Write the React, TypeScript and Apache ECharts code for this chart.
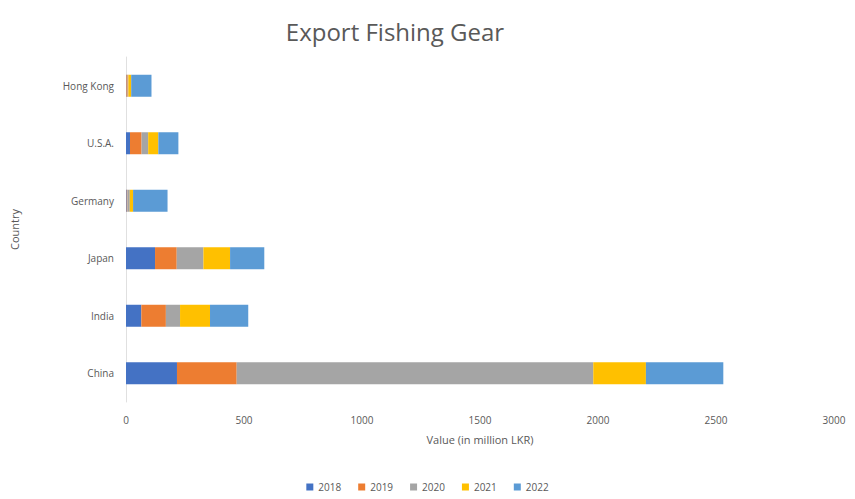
import React, { useEffect, useRef } from "react";
import * as echarts from "echarts";

const countries = ["China", "India", "Japan", "Germany", "U.S.A.", "Hong Kong"];
const years = ["2018", "2019", "2020", "2021", "2022"];
const v2018 = [216, 65, 123, 3, 17, 2];
const v2019 = [253, 104, 92, 3, 49, 5];
const v2020 = [1511, 60, 113, 10, 28, 3];
const v2021 = [223, 127, 113, 14, 43, 12];
const v2022 = [328, 162, 145, 146, 85, 86];
const xTicks = [0, 500, 1000, 1500, 2000, 2500, 3000];
const colors = ["#4472C4", "#ED7D31", "#A5A5A5", "#FFC000", "#5B9BD5"];

export default function App() {
  const ref = useRef<HTMLDivElement>(null);
  useEffect(() => {
    if (!ref.current) return;
    const chart = echarts.init(ref.current, undefined, { renderer: "svg" });
    const values = [v2018, v2019, v2020, v2021, v2022];
    chart.setOption({
      animation: false,
      color: colors,
      textStyle: { fontFamily: "Open Sans", color: "#595959" },
      title: {
        text: "Export Fishing Gear",
        left: 390,
        top: 14,
        textAlign: "center",
        textStyle: { fontSize: 24, fontWeight: "normal", color: "#595959", fontFamily: "Open Sans" },
      },
      legend: {
        data: years,
        bottom: 2,
        left: "center",
        itemWidth: 7,
        itemHeight: 7,
        itemGap: 17,
        icon: "rect",
        textStyle: { fontSize: 10, color: "#595959" },
      },
      grid: { left: 126, right: 21, top: 57, bottom: 97 },
      xAxis: {
        type: "value",
        min: xTicks[0],
        max: xTicks[xTicks.length - 1],
        interval: 500,
        name: "Value (in million LKR)",
        nameLocation: "middle",
        nameGap: 32,
        nameTextStyle: { fontSize: 11, color: "#595959" },
        axisLabel: { fontSize: 10, color: "#595959", margin: 13, formatter: (v: number) => String(v) },
        splitLine: { show: false },
        axisLine: { show: false },
        axisTick: { show: false },
      },
      yAxis: {
        type: "category",
        data: countries,
        name: "Country",
        nameLocation: "middle",
        nameGap: 106,
        nameRotate: 90,
        nameTextStyle: { fontSize: 11, color: "#595959" },
        axisLabel: { fontSize: 10, color: "#595959", margin: 12 },
        axisLine: { show: true, lineStyle: { color: "#E0E0E0" } },
        axisTick: { show: false },
      },
      series: years.map((y, i) => ({
        name: y,
        type: "bar",
        stack: "total",
        barWidth: 22,
        data: values[i],
      })),
    });
    return () => chart.dispose();
  }, []);
  return <div ref={ref} style={{ width: 855, height: 499, margin: -8 }} />;
}
